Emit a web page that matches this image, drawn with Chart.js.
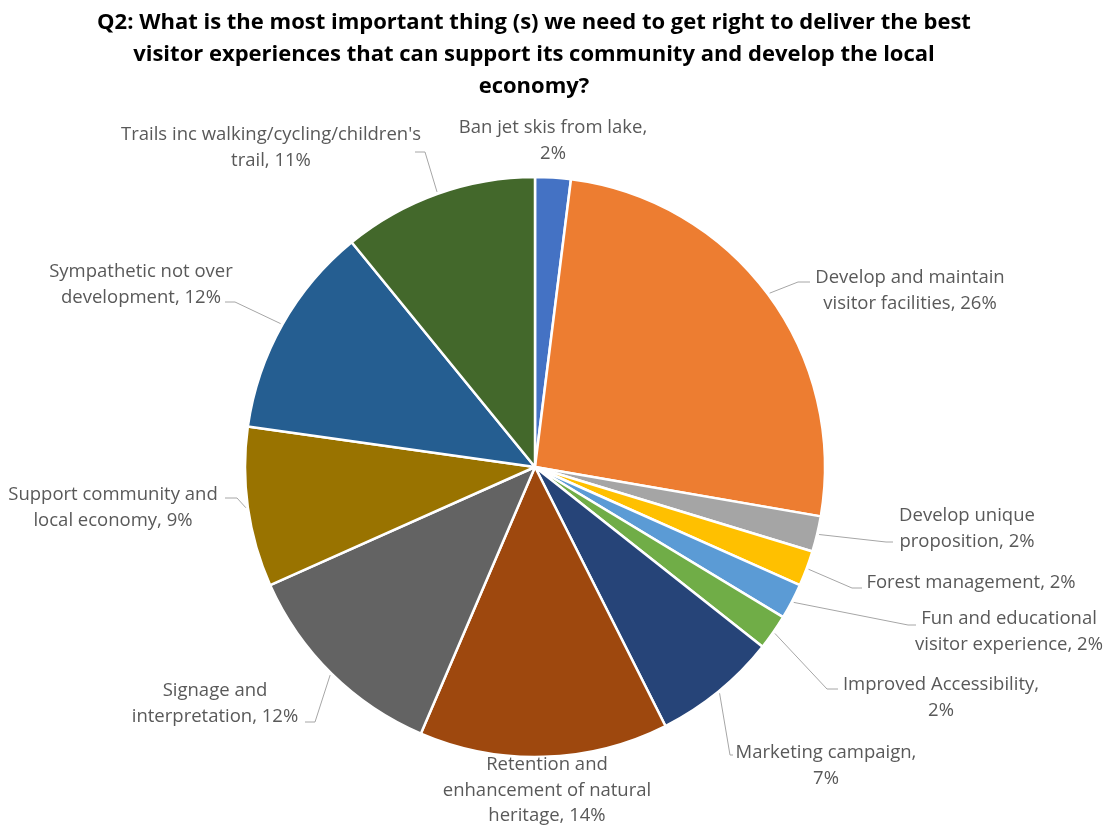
<!DOCTYPE html>
<html>
<head>
<meta charset="utf-8">
<script src="https://cdn.jsdelivr.net/npm/chart.js@4.4.0/dist/chart.umd.min.js"></script>
<style>
  body { margin: 0; background: #fff; }
  #wrap { position: relative; width: 1103px; height: 825px; overflow: hidden; }
  #chart { position: absolute; left: 0; top: 0; }
  #title {
    position: absolute; left: 0; top: 4px; width: 1068px;
    text-align: center; color: #000;
    font: bold 22px "Open Sans", sans-serif; line-height: 32px;
  }
</style>
</head>
<body>
<div id="wrap">
  <canvas id="chart" width="1103" height="825"></canvas>
  <div id="title">Q2: What is the most important thing (s) we need to get right to deliver the best<br>visitor experiences that can support its community and develop the local<br>economy?</div>
</div>
<script>
const categories = [
  'Ban jet skis from lake',
  'Develop and maintain visitor facilities',
  'Develop unique proposition',
  'Forest management',
  'Fun and educational visitor experience',
  'Improved Accessibility',
  'Marketing campaign',
  'Retention and enhancement of natural heritage',
  'Signage and interpretation',
  'Support community and local economy',
  'Sympathetic not over development',
  "Trails inc walking/cycling/children's trail"
];
const shares = [2, 26, 2, 2, 2, 2, 7, 14, 12, 9, 12, 11];
const sliceColors = [
  '#4472C4', '#ED7D31', '#A5A5A5', '#FFC000', '#5B9BD5', '#70AD47',
  '#264478', '#9E480E', '#636363', '#997300', '#255E91', '#43682B'
];

// where each data label sits: x = centre of text block, y = middle of first line,
// words = how many words go on each line, elbow/end = bend and end of the leader line
const labelSpots = [
  { x: 553, y: 128, words: [5, 1] },
  { x: 910, y: 278, words: [3, 3], elbow: [798, 282], end: 810 },
  { x: 967, y: 516, words: [2, 2], elbow: [886, 542], end: 893 },
  { x: 971, y: 583, words: [3], elbow: [852, 588], end: 862 },
  { x: 1009, y: 619, words: [3, 3], elbow: [908, 625], end: 916 },
  { x: 941, y: 685, words: [2, 1], elbow: [827, 689], end: 838 },
  { x: 826, y: 753, words: [2, 1], elbow: [730, 755], end: 733 },
  { x: 547, y: 765, words: [2, 3, 2] },
  { x: 215, y: 691, words: [2, 2], elbow: [315, 722], end: 305 },
  { x: 113, y: 495, words: [3, 3], elbow: [237, 498], end: 225 },
  { x: 141, y: 272, words: [3, 2], elbow: [235, 302], end: 225 },
  { x: 271, y: 135, words: [3, 2], elbow: [425, 152], end: 415 }
];

const LABEL_FONT = '18.5px "Open Sans", sans-serif';
const LINE_H = 25.5;

function splitLines(text, counts) {
  const words = text.split(' ');
  const lines = [];
  let at = 0;
  counts.forEach(n => {
    lines.push(words.slice(at, at + n).join(' '));
    at += n;
  });
  return lines;
}

// labels outside the pie with grey leader lines
const outsideLabels = {
  id: 'outsideLabels',
  afterDatasetsDraw(chart) {
    const ctx = chart.ctx;
    const arcs = chart.getDatasetMeta(0).data;
    ctx.save();
    ctx.font = LABEL_FONT;
    arcs.forEach((arc, i) => {
      const { x, y, startAngle, endAngle, outerRadius } =
        arc.getProps(['x', 'y', 'startAngle', 'endAngle', 'outerRadius'], true);
      const mid = (startAngle + endAngle) / 2;
      const spot = labelSpots[i];
      if (spot.elbow) {
        ctx.strokeStyle = '#a6a6a6';
        ctx.lineWidth = 1;
        ctx.beginPath();
        ctx.moveTo(x + Math.cos(mid) * (outerRadius + 2), y + Math.sin(mid) * (outerRadius + 2));
        ctx.lineTo(spot.elbow[0], spot.elbow[1]);
        ctx.lineTo(spot.end, spot.elbow[1]);
        ctx.stroke();
      }
      const lines = splitLines(categories[i] + ', ' + shares[i] + '%', spot.words);
      ctx.fillStyle = '#595959';
      ctx.textAlign = 'center';
      ctx.textBaseline = 'middle';
      lines.forEach((line, k) => ctx.fillText(line, spot.x, spot.y + k * LINE_H));
    });
    ctx.restore();
  }
};

new Chart(document.getElementById('chart'), {
  type: 'pie',
  data: {
    labels: categories,
    datasets: [{
      data: shares,
      backgroundColor: sliceColors,
      borderColor: '#ffffff',
      borderWidth: 2.5
    }]
  },
  options: {
    responsive: false,
    animation: false,
    radius: 290,
    layout: { padding: { left: 200, right: 233, top: 150, bottom: 41 } },
    plugins: {
      legend: { display: false },
      tooltip: { enabled: false }
    }
  },
  plugins: [outsideLabels]
});
</script>
</body>
</html>
